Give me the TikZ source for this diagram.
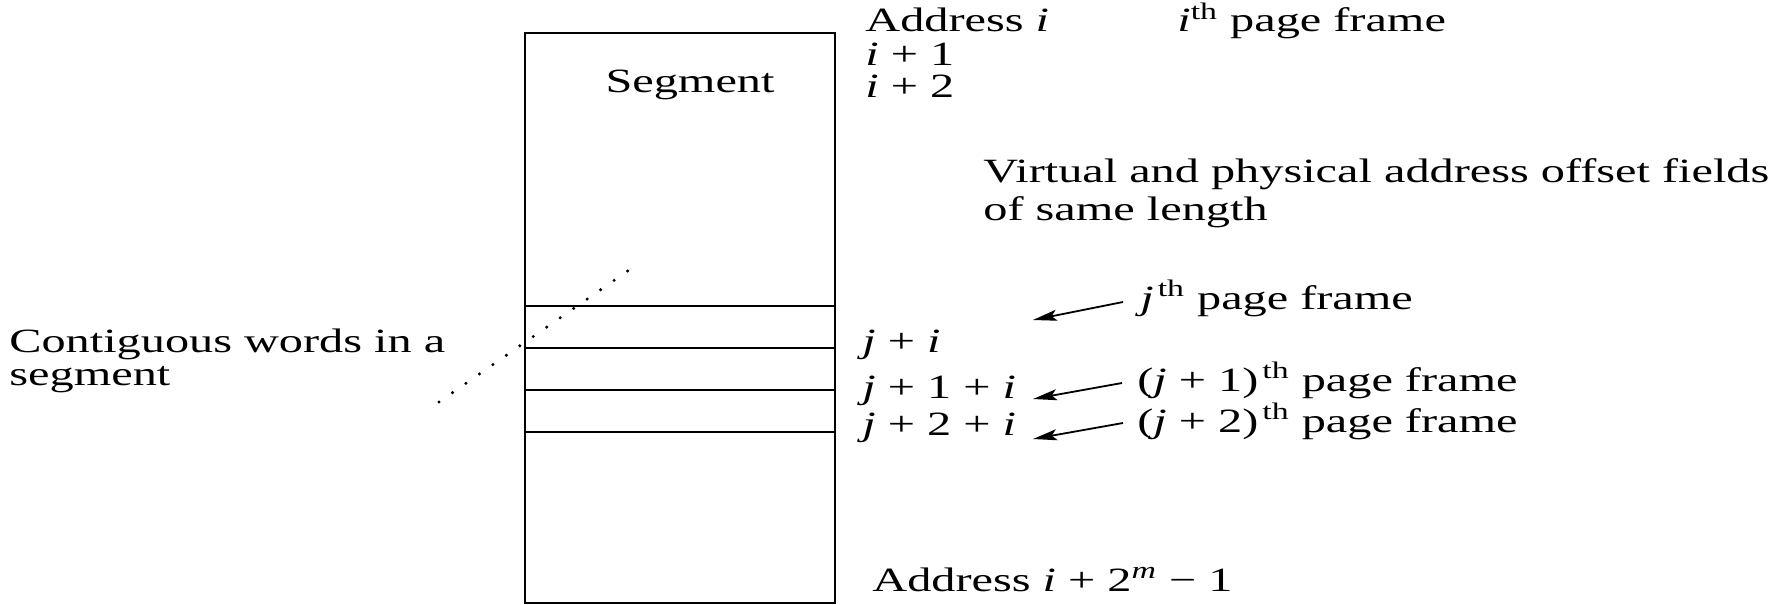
\documentclass[tikz,border=0pt]{standalone}
\usepackage{fontspec}
\setmainfont{Liberation Serif}[FakeStretch=1.42]
\usetikzlibrary{arrows.meta}
\begin{document}
\begin{tikzpicture}[x=0.5pt,y=-0.5pt,
  every node/.style={inner sep=0pt,font=\fontsize{17}{19}\selectfont},
  lbl/.style={anchor=base west},
  frame/.style={line width=1.2pt},
  arr/.style={-{Stealth[length=12pt,width=5.5pt,inset=2.5pt]},line width=0.9pt},
  dots/.style={line width=1.7pt,line cap=round,dash pattern=on 0pt off 8.2pt}]
\useasboundingbox (0,0) rectangle (1789,605);
% memory segment
\draw[frame] (525,33) rectangle (835,603);
\draw[frame] (525,306) -- (835,306);
\draw[frame] (525,348) -- (835,348);
\draw[frame] (525,390) -- (835,390);
\draw[frame] (525,432) -- (835,432);
\node[anchor=base] (seg) at (690,92) {Segment};
% address labels
\node[lbl] (ai) at (865,32) {Address \textit{i}};
\node[lbl] (ai1) at (865,65) {\textit{i} + 1};
\node[lbl] (ai2) at (865,97) {\textit{i} + 2};
\node[lbl] (ith) at (1177,32) {\textit{i}\textsuperscript{th} page frame};
\node[lbl,align=left,font=\fontsize{17}{19}\selectfont] (virt) at (983,220) {Virtual and physical address offset fields\\of same length};
% rows
\node[lbl] (r0) at (862,352) {\textit{j} + \textit{i}};
\node[lbl] (r1) at (862,398) {\textit{j} + 1 + \textit{i}};
\node[lbl] (r2) at (862,435) {\textit{j} + 2 + \textit{i}};
\node[lbl] (p0) at (1140,309) {\textit{j}\textsuperscript{\,th} page frame};
\node[lbl] (p1) at (1137,391) {(\textit{j} + 1)\textsuperscript{\,th} page frame};
\node[lbl] (p2) at (1137,432) {(\textit{j} + 2)\textsuperscript{\,th} page frame};
\coordinate (h0) at (1033,320);
\coordinate (h1) at (1033,399);
\coordinate (h2) at (1033,439);
\coordinate (t0) at (1123,302);
\coordinate (t1) at (1122,383);
\coordinate (t2) at (1123,423);
\draw[arr] (t0) -- (h0);
\draw[arr] (t1) -- (h1);
\draw[arr] (t2) -- (h2);
% last address
\node[lbl] (alast) at (872,591) {Address \textit{i} + 2\textsuperscript{\textit{m}} − 1};
% left label
\node[lbl,align=left,font=\fontsize{17}{16.5}\selectfont] (cont) at (9,385) {Contiguous words in a\\segment};
\coordinate (d1) at (439,402);
\coordinate (d2) at (629,270);
\draw[dots] (d1) -- (d2);
\end{tikzpicture}
\end{document}
